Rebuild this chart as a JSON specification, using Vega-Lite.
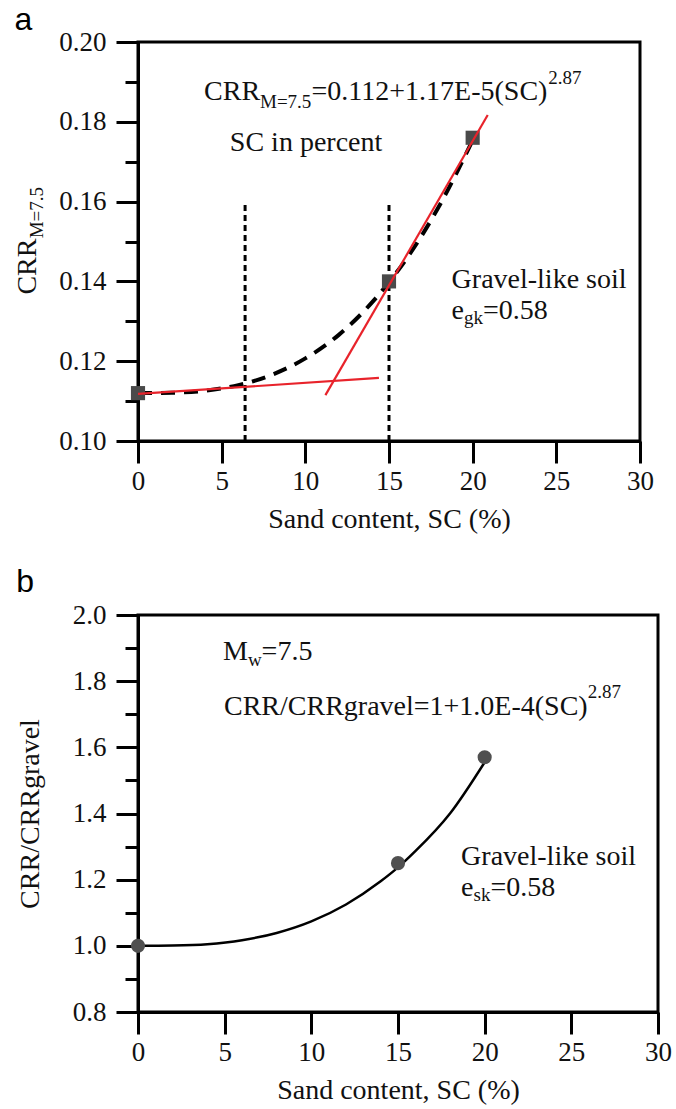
{
  "$schema": "https://vega.github.io/schema/vega-lite/v6.json",
  "background": "white",
  "padding": {"left": 12, "top": 2, "right": 0, "bottom": 2},
  "bounds": "flush",
  "spacing": 174,
  "config": {
    "view": {"stroke": "black", "strokeWidth": 3},
    "axis": {
      "domainColor": "black", "domainWidth": 3, "tickColor": "black", "tickWidth": 3,
      "grid": false, "labelFont": "Liberation Serif", "labelFontSize": 27, "labelColor": "#111",
      "titleFont": "Liberation Serif", "titleFontSize": 28, "titleFontWeight": "normal", "titleColor": "#111",
      "labelFlush": false, "labelOverlap": false
    }
  },
  "datasets": {
    "vlinesA": [{"x": 6.4, "y": 0.1, "y2": 0.16}, {"x": 15, "y": 0.1, "y2": 0.16}],
    "curveA": [
      {"x": 0, "y": 0.112}, {"x": 2, "y": 0.1121}, {"x": 4, "y": 0.1126}, {"x": 6, "y": 0.114},
      {"x": 8, "y": 0.1166}, {"x": 10, "y": 0.1207}, {"x": 12, "y": 0.1266}, {"x": 14, "y": 0.1348},
      {"x": 15, "y": 0.1398}, {"x": 16, "y": 0.1454}, {"x": 18, "y": 0.1589}, {"x": 20, "y": 0.1754}
    ],
    "ptsA": [{"x": 0, "y": 0.112}, {"x": 15, "y": 0.14}, {"x": 20, "y": 0.176}],
    "redA": [
      {"seg": "low", "x": 0, "y": 0.1118}, {"seg": "low", "x": 14.4, "y": 0.1158},
      {"seg": "high", "x": 11.2, "y": 0.1115}, {"seg": "high", "x": 20.9, "y": 0.1817}
    ],
    "textA": [
      {"x": 3.95, "y": 0.1855, "t": "CRR"},
      {"x": 10.37, "y": 0.1855, "t": "=0.112+1.17E-5(SC)"},
      {"x": 5.49, "y": 0.1727, "t": "SC in percent"},
      {"x": 18.74, "y": 0.1383, "t": "Gravel-like soil"},
      {"x": 18.74, "y": 0.1306, "t": "e"},
      {"x": 20.62, "y": 0.1306, "t": "=0.58"}
    ],
    "smallA": [
      {"x": 7.29, "y": 0.1835, "t": "M=7.5"},
      {"x": 24.52, "y": 0.1895, "t": "2.87"},
      {"x": 19.48, "y": 0.1293, "t": "gk"}
    ],
    "ytitleA": [{"x": -6.07, "y": 0.1367, "t": "CRR"}],
    "ytitleSubA": [{"x": -5.68, "y": 0.1508, "t": "M=7.5"}],
    "curveB": [
      {"x": 0, "y": 1.0}, {"x": 2, "y": 1.001}, {"x": 4, "y": 1.005}, {"x": 6, "y": 1.017},
      {"x": 8, "y": 1.039}, {"x": 10, "y": 1.074}, {"x": 12, "y": 1.125}, {"x": 14, "y": 1.195},
      {"x": 15, "y": 1.237}, {"x": 16, "y": 1.286}, {"x": 18, "y": 1.4}, {"x": 20, "y": 1.555}
    ],
    "ptsB": [{"x": 0, "y": 1.0}, {"x": 15, "y": 1.25}, {"x": 20, "y": 1.57}],
    "textB": [
      {"x": 4.9, "y": 1.864, "t": "M"},
      {"x": 7.13, "y": 1.864, "t": "=7.5"},
      {"x": 4.96, "y": 1.698, "t": "CRR/CRRgravel=1+1.0E-4(SC)"},
      {"x": 18.64, "y": 1.244, "t": "Gravel-like soil"},
      {"x": 18.64, "y": 1.15, "t": "e"},
      {"x": 20.33, "y": 1.15, "t": "=0.58"}
    ],
    "smallB": [
      {"x": 6.34, "y": 1.846, "t": "w"},
      {"x": 25.95, "y": 1.749, "t": "2.87"},
      {"x": 19.36, "y": 1.135, "t": "sk"}
    ]
  },
  "vconcat": [
    {
      "width": 502,
      "height": 399,
      "title": {"text": "a", "anchor": "start", "frame": "bounds", "font": "Liberation Sans", "fontSize": 32, "fontWeight": "normal", "color": "black", "offset": -9},
      "encoding": {
        "x": {"field": "x", "type": "quantitative", "scale": {"domain": [0, 30]},
          "axis": {"values": [0, 5, 10, 15, 20, 25, 30], "title": "Sand content, SC (%)", "tickSize": 22, "labelPadding": 5, "titlePadding": 11,
            "labelFont": "Liberation Serif", "titleFont": "Liberation Serif"}},
        "y": {"field": "y", "type": "quantitative", "scale": {"domain": [0.1, 0.2]},
          "axis": {"values": [0.1, 0.11, 0.12, 0.13, 0.14, 0.15, 0.16, 0.17, 0.18, 0.19, 0.2],
            "labelExpr": "round(datum.value*100)%2==0 ? format(datum.value, '.2f') : ''",
            "tickSize": {"condition": {"test": "round(datum.value*100)%2==0", "value": 22}, "value": 13},
            "labelPadding": 10, "title": null, "labelFont": "Liberation Serif"}}
      },
      "layer": [
        {"data": {"name": "vlinesA"}, "mark": {"type": "rule", "strokeDash": [6, 4], "strokeWidth": 3, "color": "black"}, "encoding": {"y2": {"field": "y2"}}},
        {"data": {"name": "curveA"}, "mark": {"type": "line", "interpolate": "monotone", "strokeDash": [14, 9], "strokeWidth": 4, "color": "black"}, "encoding": {}},
        {"data": {"name": "ptsA"}, "mark": {"type": "square", "size": 200, "color": "#4a4a4a", "opacity": 1}, "encoding": {}},
        {"data": {"name": "redA"}, "mark": {"type": "line", "strokeWidth": 2.2, "color": "#e8232b"}, "encoding": {"detail": {"field": "seg"}}},
        {"data": {"name": "textA"}, "mark": {"type": "text", "font": "Liberation Serif", "fontSize": 28, "align": "left", "baseline": "alphabetic", "color": "#111"}, "encoding": {"text": {"field": "t"}}},
        {"data": {"name": "smallA"}, "mark": {"type": "text", "font": "Liberation Serif", "fontSize": 19, "align": "left", "baseline": "alphabetic", "color": "#111"}, "encoding": {"text": {"field": "t"}}},
        {"data": {"name": "ytitleA"}, "mark": {"type": "text", "font": "Liberation Serif", "fontSize": 28, "align": "left", "baseline": "alphabetic", "angle": 270, "color": "#111"}, "encoding": {"text": {"field": "t"}}},
        {"data": {"name": "ytitleSubA"}, "mark": {"type": "text", "font": "Liberation Serif", "fontSize": 19, "align": "left", "baseline": "alphabetic", "angle": 270, "color": "#111"}, "encoding": {"text": {"field": "t"}}}
      ]
    },
    {
      "width": 520,
      "height": 397,
      "title": {"text": "b", "anchor": "start", "frame": "bounds", "font": "Liberation Sans", "fontSize": 32, "fontWeight": "normal", "color": "black", "offset": 2},
      "encoding": {
        "x": {"field": "x", "type": "quantitative", "scale": {"domain": [0, 30]},
          "axis": {"values": [0, 5, 10, 15, 20, 25, 30], "title": "Sand content, SC (%)", "tickSize": 22, "labelPadding": 5, "titlePadding": 11,
            "labelFont": "Liberation Serif", "titleFont": "Liberation Serif"}},
        "y": {"field": "y", "type": "quantitative", "scale": {"domain": [0.8, 2.0]},
          "axis": {"values": [0.8, 0.9, 1.0, 1.1, 1.2, 1.3, 1.4, 1.5, 1.6, 1.7, 1.8, 1.9, 2.0],
            "labelExpr": "round(datum.value*10)%2==0 ? format(datum.value, '.1f') : ''",
            "tickSize": {"condition": {"test": "round(datum.value*10)%2==0", "value": 22}, "value": 13},
            "labelPadding": 10, "title": "CRR/CRRgravel", "titlePadding": 28,
            "labelFont": "Liberation Serif", "titleFont": "Liberation Serif"}}
      },
      "layer": [
        {"data": {"name": "curveB"}, "mark": {"type": "line", "interpolate": "monotone", "strokeWidth": 2.5, "color": "black"}, "encoding": {}},
        {"data": {"name": "ptsB"}, "mark": {"type": "circle", "size": 200, "color": "#505050", "opacity": 1}, "encoding": {}},
        {"data": {"name": "textB"}, "mark": {"type": "text", "font": "Liberation Serif", "fontSize": 28, "align": "left", "baseline": "alphabetic", "color": "#111"}, "encoding": {"text": {"field": "t"}}},
        {"data": {"name": "smallB"}, "mark": {"type": "text", "font": "Liberation Serif", "fontSize": 19, "align": "left", "baseline": "alphabetic", "color": "#111"}, "encoding": {"text": {"field": "t"}}}
      ]
    }
  ]
}
